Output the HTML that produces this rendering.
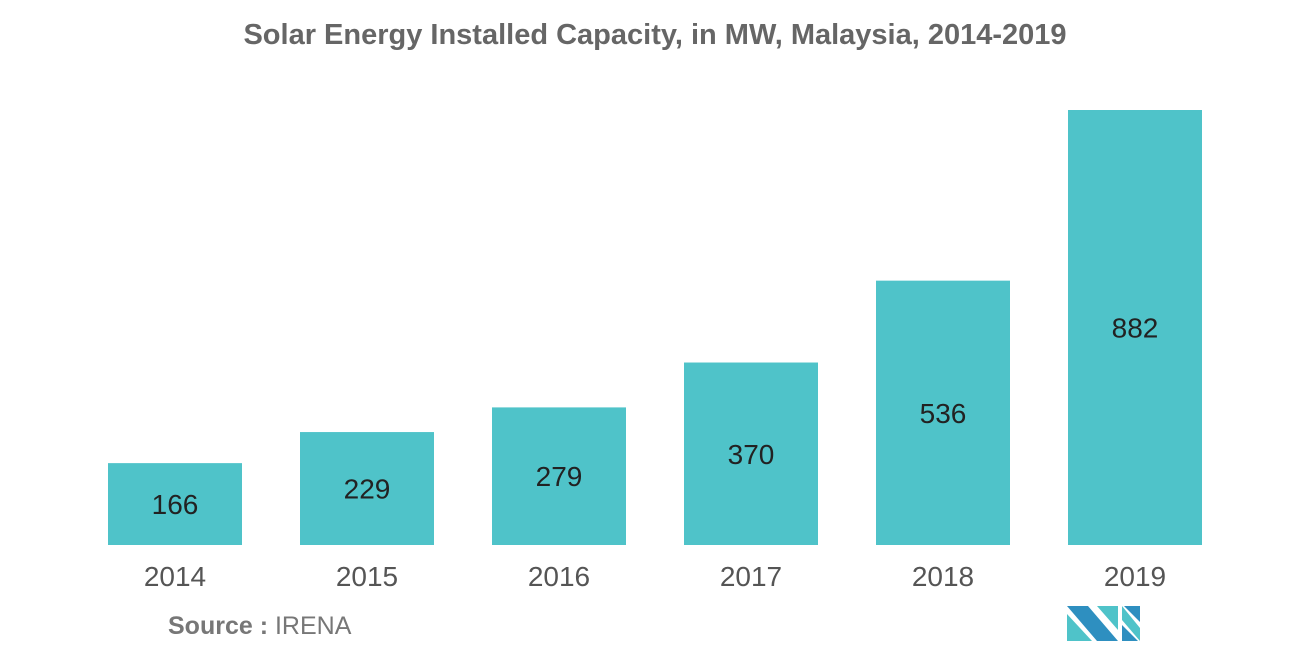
<!DOCTYPE html>
<html><head><meta charset="utf-8"><style>
body{margin:0;background:#fff;width:1310px;height:655px;overflow:hidden;font-family:"Liberation Sans",sans-serif}
</style></head><body>
<svg width="1310" height="655">
<text x="655" y="44" text-anchor="middle" font-size="29" font-weight="bold" fill="#666">Solar Energy Installed Capacity, in MW, Malaysia, 2014-2019</text>
<g id="bars"></g>
<text x="168" y="634" font-size="25" fill="#777"><tspan font-weight="bold">Source :</tspan> IRENA</text>
<g>
<polygon points="1067,606 1088,606 1118,641 1097,641" fill="#2e8fc0"/>
<polygon points="1067,614 1092,641 1067,641" fill="#4fc3c9"/>
<polygon points="1097,606 1118,606 1118,630" fill="#4fc3c9"/>
<polygon points="1122,606 1140,628 1140,641 1122,620" fill="#4fc3c9"/>
<polygon points="1122,625 1138,641 1122,641" fill="#2e8fc0"/>
<polygon points="1124,606 1140,606 1140,622" fill="#2e8fc0"/>
</g>
</svg>
<script>
const categories=["2014","2015","2016","2017","2018","2019"];
const values=[166,229,279,370,536,882];
const g=document.getElementById('bars');
const ns="http://www.w3.org/2000/svg";
const base=545, scale=435/882, x0=108, step=192, bw=134;
function y(v){return base-v*scale;}
function x(i){return x0+i*step;}
categories.forEach((c,i)=>{
  const r=document.createElementNS(ns,'rect');
  r.setAttribute('x',x(i));r.setAttribute('y',y(values[i]));
  r.setAttribute('width',bw);r.setAttribute('height',base-y(values[i]));
  r.setAttribute('fill','#4fc3c9');
  
  
  g.appendChild(r);
  const t=document.createElementNS(ns,'text');
  t.setAttribute('x',x(i)+bw/2);t.setAttribute('y',(y(values[i])+base)/2+10);
  t.setAttribute('text-anchor','middle');t.setAttribute('font-size','28');t.setAttribute('fill','#222');
  t.textContent=values[i];
  
  
  g.appendChild(t);
  const l=document.createElementNS(ns,'text');
  l.setAttribute('x',x(i)+bw/2);l.setAttribute('y',586);
  l.setAttribute('text-anchor','middle');l.setAttribute('font-size','28');l.setAttribute('fill','#555');
  l.textContent=c;
  
  
  g.appendChild(l);
});
</script>
</body></html>
